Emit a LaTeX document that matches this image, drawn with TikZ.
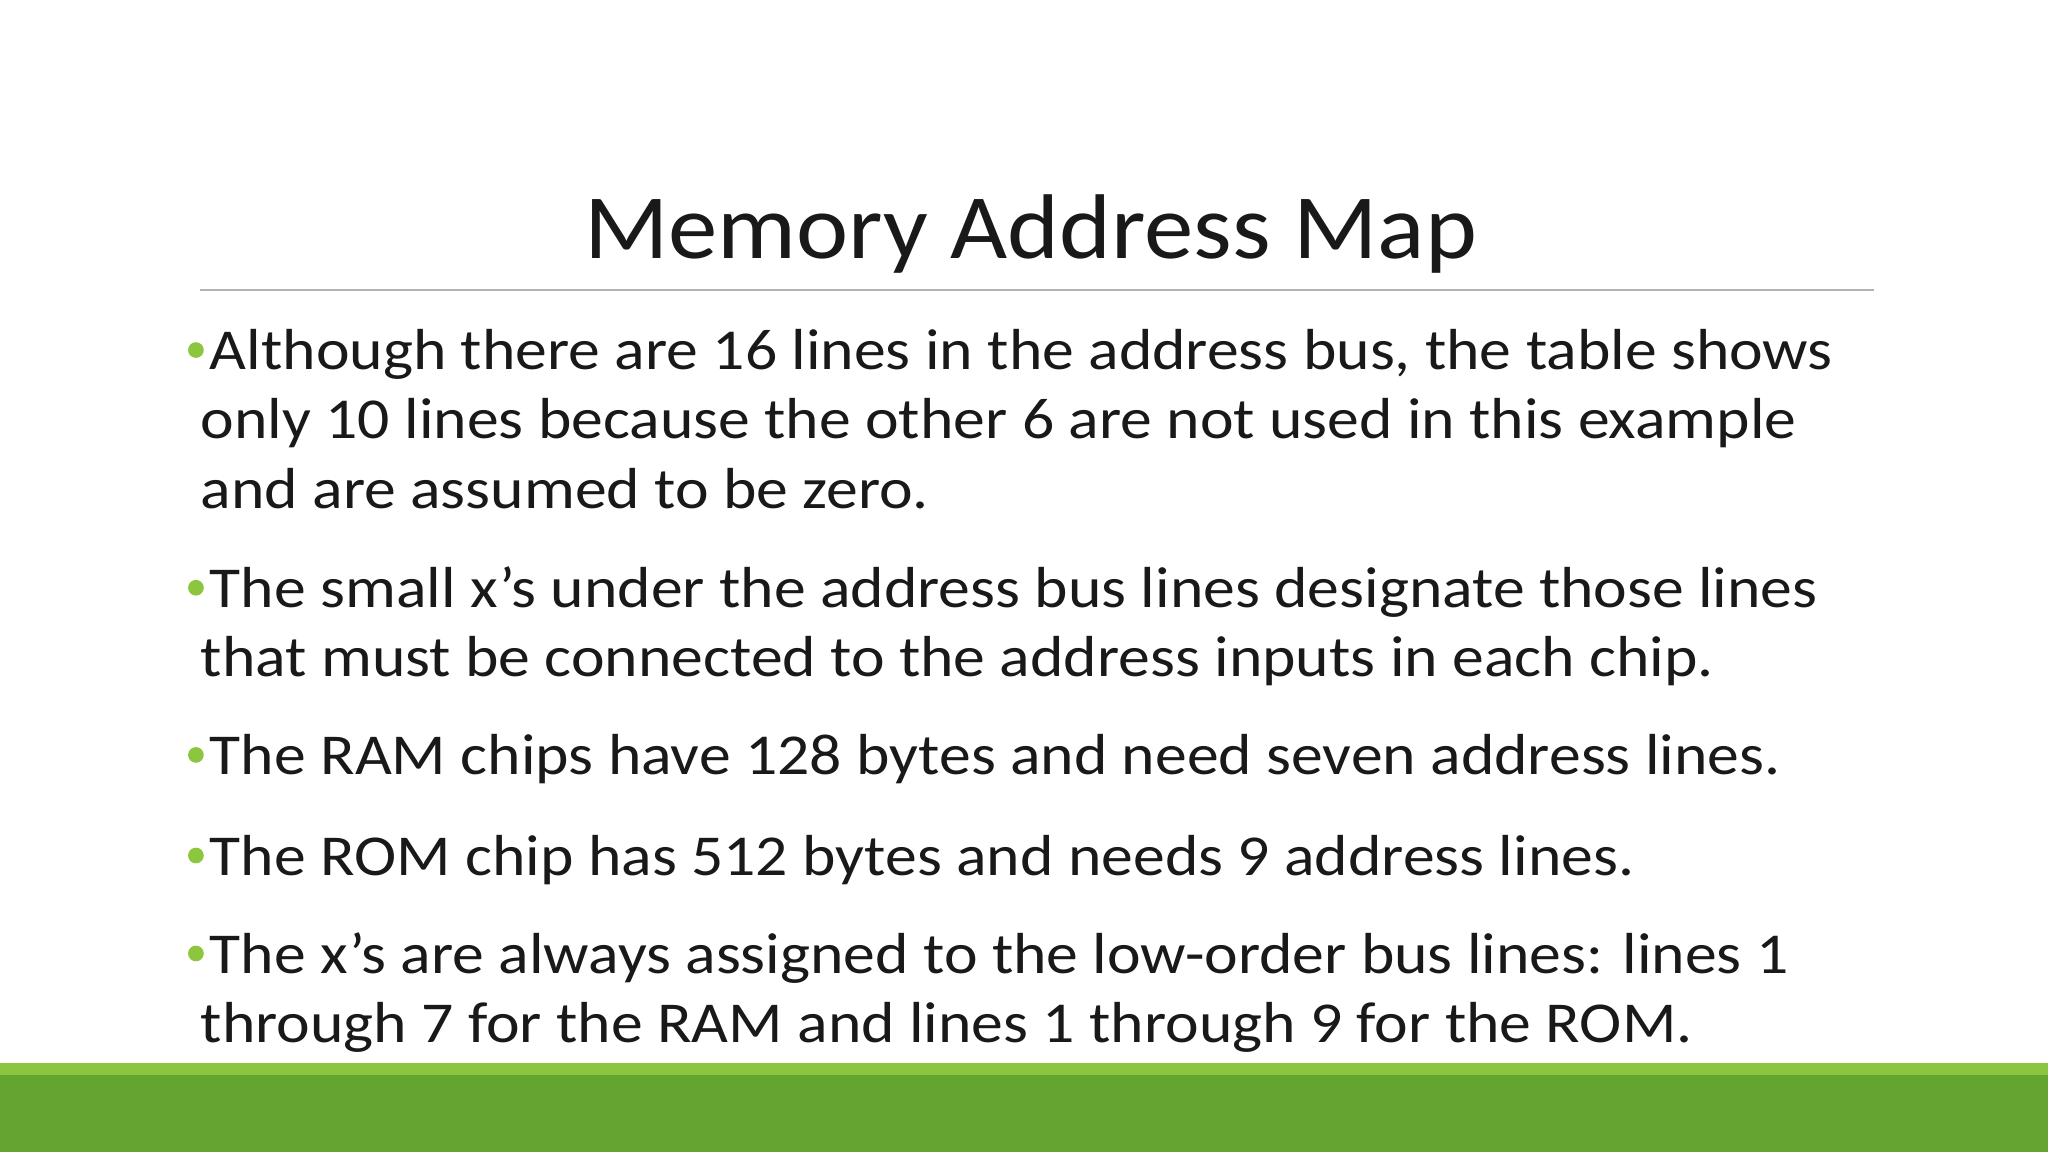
\documentclass[tikz,border=0pt]{standalone}
\usepackage{fontspec}
\setmainfont{Carlito}
\definecolor{dk}{HTML}{64A532}
\definecolor{lt}{HTML}{8CC63F}
\definecolor{bul}{HTML}{8CC63F}
\newcommand{\sq}{\char39\relax}
\begin{document}
\begin{tikzpicture}[x=0.01cm,y=-0.01cm,
  ln/.style={anchor=base west,inner sep=0,font=\fontsize{12.6pt}{15pt}\selectfont,text=black!90,xscale=1.1,transform shape},
  bu/.style={circle,fill=bul,inner sep=0,minimum size=0.12cm}]
\useasboundingbox (0,0) rectangle (1568,882);
\fill[white] (0,0) rectangle (1568,882);
\fill[lt] (0,814) rectangle (1568,823);
\fill[dk] (0,823) rectangle (1568,882);
\node[anchor=base,inner sep=0,font=\fontsize{20pt}{24pt}\selectfont,text=black!90,xscale=1.075,transform shape] (title) at (789,198) {Memory Address Map};
\draw[black!30,line width=0.6pt] (153,222) coordinate (l1) -- (1435,222) coordinate (l2);
\foreach \y/\t [count=\i] in {
 283/{Although there are 16 lines in the address bus, the table shows},
 465/{The small x\sq s under the address bus lines designate those lines},
 593/{The RAM chips have 128 bytes and need seven address lines.},
 670/{The ROM chip has 512 bytes and needs 9 address lines.},
 745/{The x\sq s are always assigned to the low-order bus lines: lines 1}}
 {\node[bu] (b\i) at (150,\y-15) {}; \node[ln] (t\i) at (160,\y) {\t};}
\foreach \y/\t [count=\i] in {
 336/{only 10 lines because the other 6 are not used in this example},
 389/{and are assumed to be zero.},
 518/{that must be connected to the address inputs in each chip.},
 798/{through 7 for the RAM and lines 1 through 9 for the ROM.}}
 {\node[ln] (c\i) at (153,\y) {\t};}
\end{tikzpicture}
\end{document}
